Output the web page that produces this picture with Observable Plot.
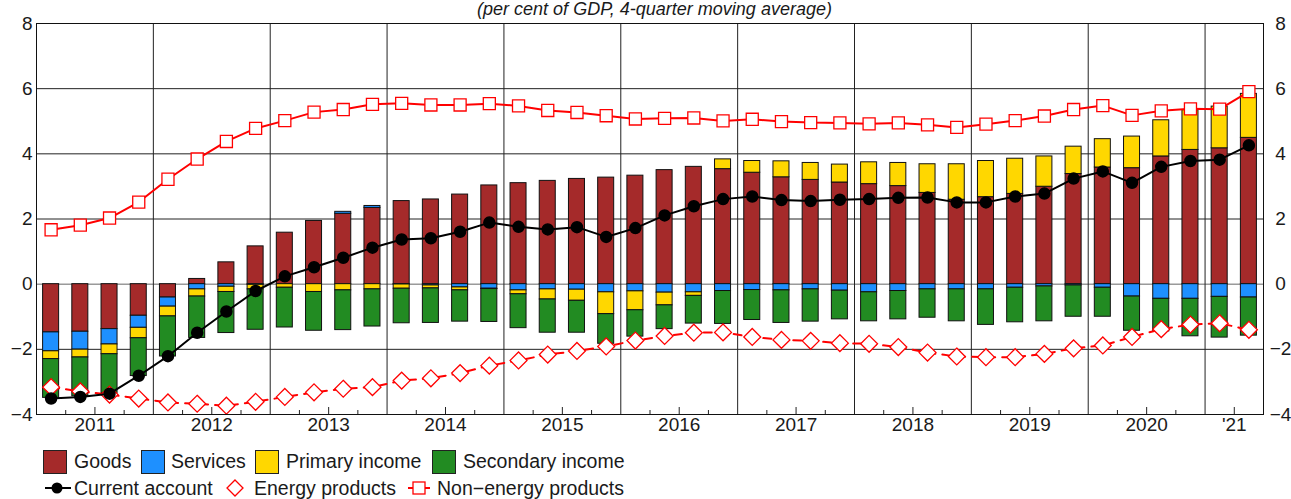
<!DOCTYPE html>
<html>
<head>
<meta charset="utf-8">
<script src="https://cdn.jsdelivr.net/npm/d3@7"></script>
<script src="https://cdn.jsdelivr.net/npm/@observablehq/plot@0.6"></script>
<style>
  body { margin: 0; background: #fff; font-family: "Liberation Sans", Arial, sans-serif; color: #1a1a1a; }
  #wrap { position: relative; width: 1291px; height: 499px; overflow: hidden; background: #fff; }
  #chart { position: absolute; left: 0; top: 0; }
  #sub { position: absolute; top: 0px; left: 9px; width: 1291px; text-align: center; font-style: italic; font-size: 18px; line-height: 19px; white-space: nowrap; }
  .item { position: absolute; font-size: 19.5px; line-height: 20px; white-space: nowrap; }
  .box { position: absolute; width: 22px; height: 22px; border: 1px solid #222; }
  .icon { position: absolute; }
</style>
</head>
<body>
<div id="wrap">
  <div id="chart"></div>
  <div id="sub">(per cent of GDP, 4-quarter moving average)</div>
  <div id="legend"></div>
</div>
<script>
// ---------- data ----------
const quarters = [
  "2011Q1","2011Q2","2011Q3","2011Q4","2012Q1","2012Q2","2012Q3","2012Q4",
  "2013Q1","2013Q2","2013Q3","2013Q4","2014Q1","2014Q2","2014Q3","2014Q4",
  "2015Q1","2015Q2","2015Q3","2015Q4","2016Q1","2016Q2","2016Q3","2016Q4",
  "2017Q1","2017Q2","2017Q3","2017Q4","2018Q1","2018Q2","2018Q3","2018Q4",
  "2019Q1","2019Q2","2019Q3","2019Q4","2020Q1","2020Q2","2020Q3","2020Q4",
  "2021Q1","2021Q2"
];
const goods = [
  -1.48,-1.46,-1.38,-0.97,-0.41,0.16,0.67,1.16,
  1.58,1.94,2.16,2.34,2.55,2.60,2.75,3.03,
  3.10,3.17,3.23,3.27,3.33,3.50,3.60,3.53,
  3.42,3.28,3.20,3.12,3.07,3.01,2.80,2.59,
  2.67,2.77,2.99,3.38,3.58,3.56,3.92,4.12,
  4.17,4.49
];
const services = [
  -0.58,-0.55,-0.47,-0.37,-0.28,-0.16,-0.08,-0.02,
  0.00,0.00,0.06,0.06,-0.01,-0.04,-0.10,-0.14,
  -0.19,-0.16,-0.17,-0.25,-0.22,-0.26,-0.25,-0.21,
  -0.18,-0.19,-0.16,-0.20,-0.25,-0.21,-0.16,-0.16,
  -0.16,-0.11,-0.07,-0.04,-0.11,-0.38,-0.45,-0.45,
  -0.39,-0.41
];
const primaryIncome = [
  -0.24,-0.24,-0.30,-0.32,-0.30,-0.22,-0.16,-0.14,
  -0.11,-0.24,-0.19,-0.16,-0.13,-0.09,-0.09,-0.01,
  -0.12,-0.31,-0.34,-0.67,-0.58,-0.39,-0.11,0.30,
  0.36,0.49,0.52,0.55,0.67,0.71,0.88,1.09,
  1.11,1.08,0.93,0.84,0.87,0.97,1.11,1.22,
  1.28,1.35
];
const secondaryIncome = [
  -1.19,-1.19,-1.19,-1.16,-1.23,-1.27,-1.26,-1.24,
  -1.22,-1.19,-1.22,-1.14,-1.06,-1.06,-0.96,-1.01,
  -1.04,-1.02,-0.98,-0.91,-0.81,-0.73,-0.85,-1.01,
  -0.92,-1.00,-0.99,-0.88,-0.89,-0.87,-0.87,-0.98,
  -1.09,-1.06,-1.07,-0.96,-0.89,-1.05,-1.00,-1.15,
  -1.25,-1.17
];
const currentAccount = [
  -3.51,-3.46,-3.36,-2.81,-2.21,-1.49,-0.84,-0.21,
  0.24,0.52,0.81,1.12,1.37,1.41,1.61,1.89,
  1.76,1.68,1.75,1.45,1.72,2.11,2.39,2.61,
  2.69,2.58,2.55,2.59,2.61,2.65,2.66,2.51,
  2.51,2.69,2.78,3.24,3.46,3.11,3.60,3.78,
  3.82,4.26
];
const energyProducts = [
  -3.16,-3.29,-3.39,-3.51,-3.63,-3.67,-3.73,-3.61,
  -3.46,-3.32,-3.21,-3.16,-2.96,-2.89,-2.73,-2.50,
  -2.34,-2.16,-2.05,-1.91,-1.73,-1.59,-1.49,-1.48,
  -1.62,-1.71,-1.74,-1.81,-1.83,-1.93,-2.10,-2.22,
  -2.24,-2.24,-2.14,-1.97,-1.88,-1.62,-1.38,-1.24,
  -1.20,-1.40
];
const nonEnergyProducts = [
  1.67,1.81,2.03,2.52,3.22,3.84,4.38,4.78,
  5.02,5.28,5.36,5.52,5.55,5.50,5.50,5.54,
  5.47,5.33,5.27,5.17,5.07,5.09,5.10,5.01,
  5.06,4.99,4.96,4.95,4.92,4.95,4.89,4.81,
  4.91,5.02,5.16,5.36,5.48,5.18,5.32,5.38,
  5.37,5.91
];
const barSeries = ["Goods","Services","Primary income","Secondary income"];
const barColors = ["#A52A2A","#1E90FF","#FFD700","#228B22"];
const yTicks = [-4,-2,0,2,4,6,8];
const yearLabelMap = {2011:"2011",2012:"2012",2013:"2013",2014:"2014",2015:"2015",2016:"2016",2017:"2017",2018:"2018",2019:"2019",2020:"2020",2021:"'21"};

// ---------- derived tables ----------
const qTime = q => +q.slice(0,4) + (+q.slice(5) - 0.5) / 4;   // quarter midpoint in years
const qStart = q => +q.slice(0,4) + (+q.slice(5) - 1) / 4;
const qEnd = q => +q.slice(0,4) + (+q.slice(5)) / 4;

const barValues = [goods, services, primaryIncome, secondaryIncome];
const bars = [];
quarters.forEach((q, i) => {
  let pos = 0, neg = 0;
  barValues.forEach((arr, s) => {
    const v = arr[i];
    if (v === 0) return;
    let y1, y2;
    if (v > 0) { y1 = pos; y2 = pos + v; pos = y2; }
    else { y1 = neg; y2 = neg + v; neg = y2; }
    bars.push({q, x1: qStart(q), x2: qEnd(q), y1, y2, series: barSeries[s]});
  });
});
const lineRows = (arr) => quarters.map((q, i) => ({t: qTime(q), v: arr[i]}));
const ca = lineRows(currentAccount);
const energy = lineRows(energyProducts);
const nonEnergy = lineRows(nonEnergyProducts);

const yearsInData = Array.from(new Set(quarters.map(q => +q.slice(0,4))));
const yearLabels = yearsInData.map(y => {
  const qs = quarters.filter(q => +q.slice(0,4) === y);
  return {t: (qStart(qs[0]) + qEnd(qs[qs.length-1])) / 2, label: yearLabelMap[y]};
});
const yearBounds = yearsInData.slice(1);
const quarterBounds = [];
for (let i = 1; i < quarters.length; i++) {
  if (quarters[i].slice(0,4) === quarters[i-1].slice(0,4)) quarterBounds.push(qStart(quarters[i]));
}
const labelTimes = new Set(yearLabels.map(d => d.t.toFixed(3)));
const longTicks = quarterBounds.filter(t => labelTimes.has(t.toFixed(3)));
const shortTicks = quarterBounds.filter(t => !labelTimes.has(t.toFixed(3)));

const fmt = d => d < 0 ? "\u2212" + Math.abs(d) : String(d);
const frameH = 445 - 23 - 31;

const chart = Plot.plot({
  width: 1291,
  height: 445,
  marginLeft: 36,
  marginRight: 28,
  marginTop: 23,
  marginBottom: 31,
  x: {domain: [qStart(quarters[0]), qEnd(quarters[quarters.length-1])], axis: null},
  y: {domain: [yTicks[0], yTicks[yTicks.length-1]], axis: null},
  color: {domain: barSeries, range: barColors},
  style: {fontFamily: "Liberation Sans, Arial, sans-serif", fontSize: "19px", color: "#1a1a1a", background: "transparent", overflow: "visible"},
  marks: [
    Plot.ruleY(yTicks.filter(d => d !== 0), {stroke: "#222", strokeWidth: 1}),
    Plot.ruleY([0], {stroke: "#666", strokeWidth: 1}),
    Plot.ruleX(yearBounds, {stroke: "#222", strokeWidth: 1}),
    Plot.ruleX(shortTicks, {stroke: "#222", strokeWidth: 1, insetTop: frameH - 4}),
    Plot.ruleX(longTicks, {stroke: "#222", strokeWidth: 1, insetTop: frameH - 7}),
    Plot.rect(bars, {x1: "x1", x2: "x2", y1: "y1", y2: "y2", fill: "series", stroke: "#111", strokeWidth: 1, insetLeft: 6.6, insetRight: 6.6}),
    Plot.line(energy, {x: "t", y: "v", stroke: "#ff0000", strokeWidth: 2, strokeDasharray: "8,7"}),
    Plot.dot(energy, {x: "t", y: "v", symbol: "diamond2", r: 7.6, fill: "#fff", stroke: "#ff0000", strokeWidth: 1.3}),
    Plot.line(nonEnergy, {x: "t", y: "v", stroke: "#ff0000", strokeWidth: 2}),
    Plot.dot(nonEnergy, {x: "t", y: "v", symbol: "square", r: 6.8, fill: "#fff", stroke: "#ff0000", strokeWidth: 1.3}),
    Plot.line(ca, {x: "t", y: "v", stroke: "#000", strokeWidth: 2}),
    Plot.dot(ca, {x: "t", y: "v", r: 5.5, fill: "#000", stroke: "#000"}),
    Plot.frame({stroke: "#111", strokeWidth: 1}),
    Plot.text(yTicks, {y: d => d, text: fmt, frameAnchor: "left", textAnchor: "end", dx: -4, fontSize: 19}),
    Plot.text(yTicks, {y: d => d, text: fmt, frameAnchor: "right", textAnchor: "middle", dx: 17, fontSize: 19}),
    Plot.text(yearLabels, {x: "t", text: "label", frameAnchor: "bottom", dy: 16, fontSize: 19})
  ]
});
document.getElementById("chart").appendChild(chart);

// ---------- legend ----------
const legend = document.getElementById("legend");
const boxLefts = [43, 141, 255, 432];
const boxTextLefts = [74, 171, 286, 463];
barSeries.forEach((s, i) => {
  const b = document.createElement("div");
  b.className = "box";
  b.style.left = boxLefts[i] + "px"; b.style.top = "450px"; b.style.background = barColors[i];
  legend.appendChild(b);
  const t = document.createElement("div");
  t.className = "item"; t.textContent = s;
  t.style.left = boxTextLefts[i] + "px"; t.style.top = "451px";
  legend.appendChild(t);
});
const lineItems = [
  {label: "Current account", iconLeft: 43, textLeft: 74,
   svg: '<svg width="30" height="20"><line x1="2" y1="10" x2="28" y2="10" stroke="#000" stroke-width="2"/><circle cx="14" cy="10" r="5.5" fill="#000"/></svg>'},
  {label: "Energy products", iconLeft: 225, textLeft: 254,
   svg: '<svg width="20" height="20"><path d="M10 2 L18 10 L10 18 L2 10 Z" fill="#fff" stroke="#ff0000" stroke-width="1.3"/></svg>'},
  {label: "Non\u2212energy products", iconLeft: 407, textLeft: 437,
   svg: '<svg width="24" height="20"><line x1="1" y1="10" x2="23" y2="10" stroke="#ff0000" stroke-width="2"/><rect x="6" y="4" width="12" height="12" fill="#fff" stroke="#ff0000" stroke-width="1.3"/></svg>'}
];
lineItems.forEach(it => {
  const ic = document.createElement("div");
  ic.className = "icon"; ic.innerHTML = it.svg;
  ic.style.left = it.iconLeft + "px"; ic.style.top = "478px";
  legend.appendChild(ic);
  const t = document.createElement("div");
  t.className = "item"; t.textContent = it.label;
  t.style.left = it.textLeft + "px"; t.style.top = "478px";
  legend.appendChild(t);
});
</script>
</body>
</html>
